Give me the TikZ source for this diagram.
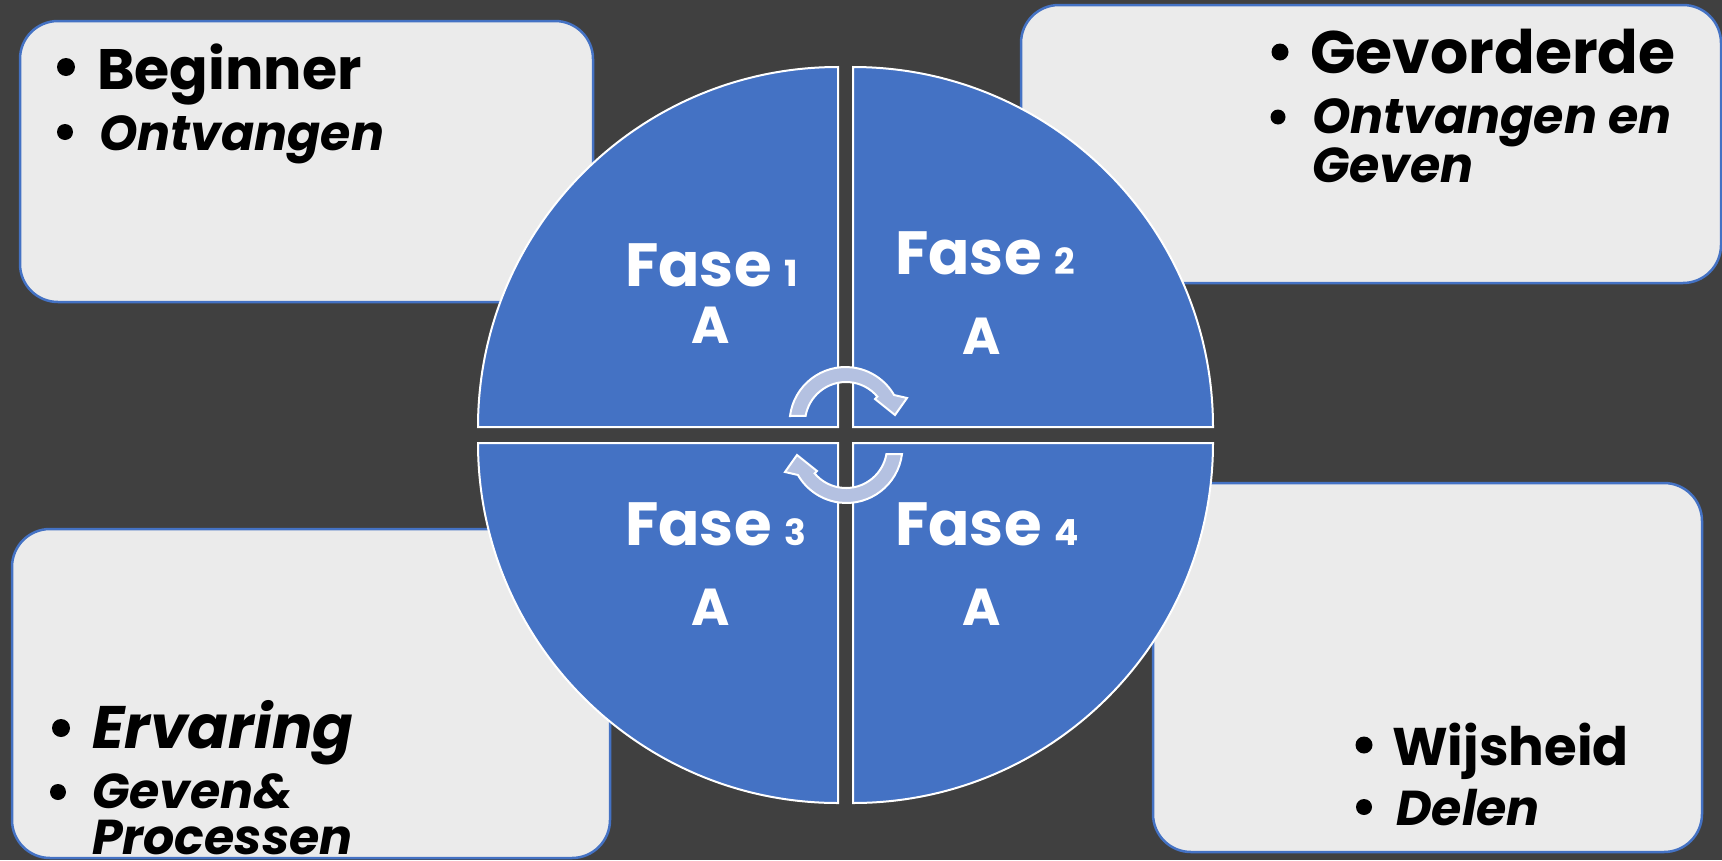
\documentclass[tikz,border=0pt]{standalone}
\usepackage{fontspec}
\setmainfont{Poppins}
\usetikzlibrary{calc}
\definecolor{bgc}{RGB}{64,64,64}
\definecolor{blu}{RGB}{68,114,196}
\definecolor{boxc}{RGB}{235,235,235}
\definecolor{arrc}{RGB}{180,193,225}
\tikzset{
  card/.style={fill=boxc, draw=blu, line width=2.5pt, rounded corners=38pt},
  quad/.style={fill=blu, draw=white, line width=2pt},
  turn/.style={fill=arrc, draw=white, line width=2pt, line join=miter},
  bul/.style={fill=black},
  big/.style={anchor=base west, inner sep=0pt, font=\fontsize{57}{68}\selectfont\bfseries},
  bigit/.style={anchor=base west, inner sep=0pt, font=\fontsize{60}{72}\selectfont\bfseries\itshape},
  smallit/.style={anchor=base west, inner sep=0pt, font=\fontsize{49}{56}\selectfont\bfseries\itshape},
  fase/.style={anchor=base west, inner sep=0pt, text=white, font=\fontsize{61}{72}\selectfont\bfseries},
  letA/.style={anchor=base, inner sep=0pt, text=white, font=\fontsize{52}{60}\selectfont\bfseries},
}
\newcommand{\numsz}{\fontsize{36}{40}\selectfont}
\begin{document}
\begin{tikzpicture}[x=1pt,y=1pt]
\useasboundingbox (0,0) rectangle (1722,-860);
\fill[bgc] (0,0) rectangle (1722,-860);
% cards
\draw[card] (20,-21) rectangle (593,-302);
\draw[card] (1021,-5) rectangle (1721,-283);
\draw[card] (12,-529) rectangle (610,-858);
\draw[card] (1153,-483) rectangle (1702,-852);
% card texts
\fill[bul] (66,-67) circle (9);
\fill[bul] (65,-132) circle (8);
\node[big] (t1a) at (97,-89) {Beginner};
\node[smallit] (t1b) at (99,-150) {Ontvangen};
\fill[bul] (1280,-52) circle (8.5);
\fill[bul] (1278,-117) circle (7.5);
\node[big, font=\fontsize{60}{72}\selectfont\bfseries] (t2a) at (1310,-73) {Gevorderde};
\node[smallit] (t2b) at (1312,-133) {Ontvangen en};
\node[smallit] (t2c) at (1312,-182) {Geven};
\fill[bul] (61,-728) circle (9);
\fill[bul] (58,-792) circle (8);
\node[bigit] (t3a) at (92,-748) {Ervaring};
\node[smallit] (t3b) at (92,-808) {Geven\&};
\node[smallit] (t3c) at (92,-854) {Processen};
\fill[bul] (1364,-745) circle (8.5);
\fill[bul] (1364,-807) circle (8);
\node[big, font=\fontsize{53}{64}\selectfont\bfseries] (t4a) at (1392,-765) {Wijsheid};
\node[smallit] (t4b) at (1396,-825) {Delen};
% quadrants
\draw[quad] (838,-427) -- ++(-360,0) arc[start angle=180, end angle=90, radius=360] -- cycle;
\draw[quad] (853,-427) -- ++(0,360) arc[start angle=90, end angle=0, radius=360] -- cycle;
\draw[quad] (838,-443) -- ++(0,-360) arc[start angle=270, end angle=180, radius=360] -- cycle;
\draw[quad] (853,-443) -- ++(360,0) arc[start angle=0, end angle=-90, radius=360] -- cycle;
% phase labels
\node[fase] (f1) at (625,-286) {Fase {\numsz 1}};
\node[letA] (a1) at (711,-343) {A};
\node[fase] (f2) at (895,-274) {Fase {\numsz 2}};
\node[letA] (a2) at (982,-354) {A};
\node[fase] (f3) at (625,-545) {Fase {\numsz 3}};
\node[letA] (a3) at (711,-625) {A};
\node[fase] (f4) at (895,-545) {Fase {\numsz 4}};
\node[letA] (a4) at (982,-625) {A};
% circular arrows
\draw[turn] (790,-416) arc[start angle=172.8, end angle=30, radius=56] -- (907,-398) -- (895,-415) -- (875,-399) -- ($(846,-423)+(40:41)$) arc[start angle=40, end angle=170, radius=41] -- cycle;
\draw[turn, rotate around={180:(846,-435)}] (790,-416) arc[start angle=172.8, end angle=30, radius=56] -- (907,-398) -- (895,-415) -- (875,-399) -- ($(846,-423)+(40:41)$) arc[start angle=40, end angle=170, radius=41] -- cycle;
\end{tikzpicture}
\end{document}
